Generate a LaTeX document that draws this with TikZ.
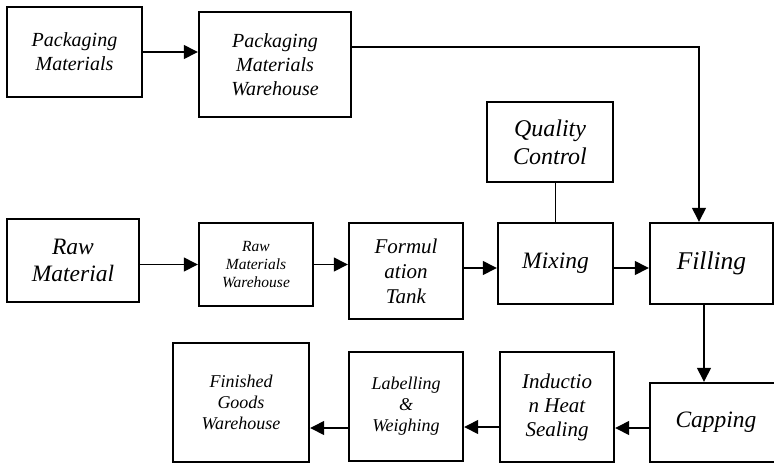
\documentclass[tikz,border=0pt]{standalone}
\usepackage{fontspec}
\setmainfont{Liberation Serif}
\usetikzlibrary{arrows.meta,calc}
\newcommand\fsz[2]{\fontsize{#1}{#2}\selectfont\itshape}
\tikzset{
  box/.style={draw, line width=2.4pt, inner sep=0pt, align=center, rectangle},
  link/.style={line width=1.4pt},
  arr/.style={link, -{Triangle[length=14pt,width=14pt]}}
}
\begin{document}
\begin{tikzpicture}[x=1pt,y=-1pt]
\useasboundingbox (0,0) rectangle (774,464);
% top row
\node[box, minimum width=135, minimum height=90, font=\fsz{20}{24}] (pm) at (74.5,52) {Packaging\\Materials};
\node[box, minimum width=152, minimum height=105, font=\fsz{20}{24}] (pmw) at (275,64.5) {Packaging\\Materials\\Warehouse};
\node[box, minimum width=126, minimum height=80, font=\fsz{24}{28}] (qc) at (550,142) {Quality\\Control};
% middle row
\node[box, minimum width=132, minimum height=83, font=\fsz{23.5}{27}] (rm) at (73,260.5) {Raw\\Material};
\node[box, minimum width=114, minimum height=83, font=\fsz{15.5}{18}] (rmw) at (256,264.5) {Raw\\Materials\\Warehouse};
\node[box, minimum width=114, minimum height=96, font=\fsz{21}{25}] (ft) at (406,271) {Formul\\ation\\Tank};
\node[box, minimum width=115, minimum height=81, font=\fsz{23.5}{27}] (mix) at (555.5,263.5) {Mixing};
\node[box, minimum width=123, minimum height=81, font=\fsz{25.5}{29}] (fil) at (711.5,263.5) {Filling};
% bottom row
\node[box, minimum width=132, minimum height=79, font=\fsz{23.5}{27}] (cap) at (716,422.5) {Capping};
\node[box, minimum width=114, minimum height=110, font=\fsz{21}{24}] (ind) at (557,407) {Inductio\\n Heat\\Sealing};
\node[box, minimum width=114, minimum height=109, font=\fsz{18}{21}] (lab) at (406,406.5) {Labelling\\\&\\Weighing};
\node[box, minimum width=136, minimum height=119, font=\fsz{18}{21}] (fg) at (241,402.5) {Finished\\Goods\\Warehouse};
% connectors
\coordinate (bend) at (699,47);
\draw[arr] (pm.east) -- (pm.east -| pmw.west);
\draw[arr] (bend -| pmw.east) -- (bend) -- (bend |- fil.north);
\draw[link] (mix.north |- qc.south) -- (mix.north);
\draw[arr] (rmw.west -| rm.east) -- (rmw.west);
\draw[arr] (rmw.east) -- (rmw.east -| ft.west);
\draw[arr] (ft.east |- 0,268) -- (mix.west |- 0,268);
\draw[arr] (mix.east |- 0,268) -- (fil.west |- 0,268);
\draw[arr] (fil.south -| 704,0) -- (cap.north -| 704,0);
\draw[arr] (cap.west |- 0,428) -- (ind.east |- 0,428);
\draw[arr] (ind.west |- 0,427) -- (lab.east |- 0,427);
\draw[arr] (lab.west |- 0,428) -- (fg.east |- 0,428);
\end{tikzpicture}
\end{document}
